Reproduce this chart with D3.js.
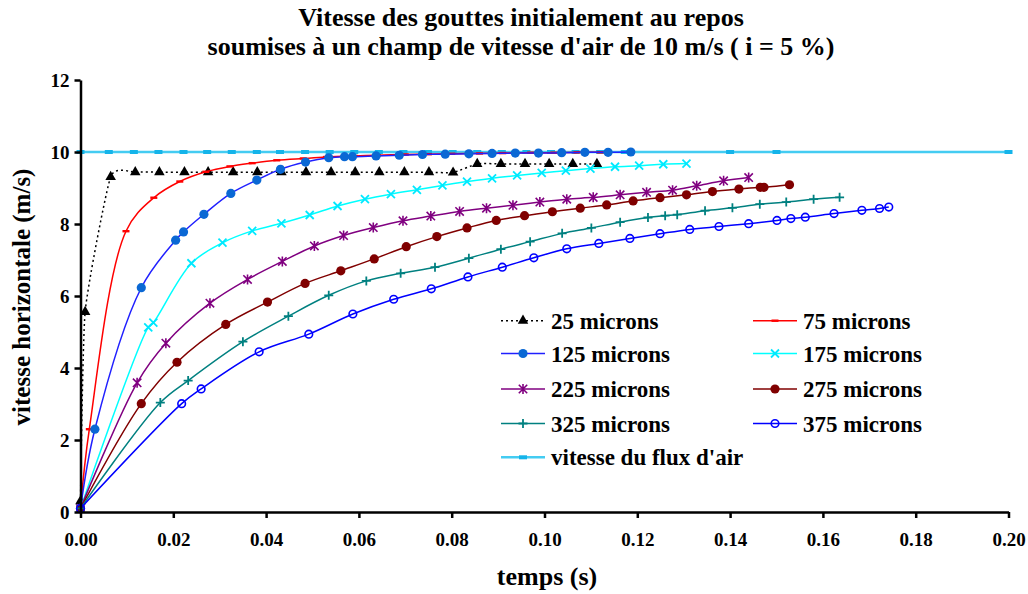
<!DOCTYPE html>
<html><head><meta charset="utf-8">
<script src="https://cdn.jsdelivr.net/npm/d3@7"></script>
<style>
body{margin:0;background:#fff;}
svg{display:block;}
text{font-family:"Liberation Serif","Times New Roman",serif;font-weight:bold;fill:#000;}
</style></head>
<body><svg id="c" width="1028" height="594"></svg>
<script>
// ---- data ----
const t25 = [0, 0.0010, 0.0065, 0.0118, 0.0170, 0.0224, 0.0275, 0.0329, 0.0381, 0.0433, 0.0486, 0.0540, 0.0592, 0.0644, 0.0698, 0.0751, 0.0803, 0.0855, 0.0906, 0.0958, 0.1010, 0.1061, 0.1113];
const v25 = [0.3, 5.56, 9.31, 9.44, 9.44, 9.44, 9.44, 9.44, 9.44, 9.44, 9.44, 9.44, 9.44, 9.44, 9.44, 9.44, 9.43, 9.67, 9.67, 9.67, 9.67, 9.67, 9.67];
const t75 = [0, 0.0019, 0.0098, 0.0158, 0.0214, 0.0270, 0.0322, 0.0370, 0.0423, 0.0480, 0.0530, 0.0590, 0.0640, 0.0700, 0.0750, 0.0800, 0.0860, 0.0910, 0.0970, 0.1020, 0.1070, 0.1120];
const v75 = [0.1, 2.3, 7.8, 8.73, 9.18, 9.45, 9.60, 9.69, 9.77, 9.82, 9.86, 9.89, 9.91, 9.93, 9.94, 9.95, 9.96, 9.97, 9.98, 9.98, 9.99, 9.99];
const t125 = [0, 0.0031, 0.0131, 0.0205, 0.0222, 0.0266, 0.0324, 0.0380, 0.0431, 0.0485, 0.0535, 0.0569, 0.0586, 0.0637, 0.0687, 0.0737, 0.0786, 0.0837, 0.0887, 0.0937, 0.0987, 0.1037, 0.1087, 0.1137, 0.1186];
const v125 = [0.1, 2.3, 6.23, 7.55, 7.78, 8.27, 8.85, 9.22, 9.52, 9.72, 9.84, 9.87, 9.87, 9.89, 9.91, 9.93, 9.94, 9.95, 9.96, 9.97, 9.97, 9.98, 9.99, 9.99, 10.0];
const t175 = [0, 0.0146, 0.0157, 0.0239, 0.0306, 0.0370, 0.0433, 0.0494, 0.0554, 0.0613, 0.0669, 0.0725, 0.0780, 0.0833, 0.0887, 0.0941, 0.0994, 0.1046, 0.1099, 0.1152, 0.1204, 0.1256, 0.1306];
const v175 = [0.1, 5.13, 5.26, 6.91, 7.48, 7.81, 8.02, 8.25, 8.50, 8.69, 8.83, 8.95, 9.07, 9.18, 9.27, 9.35, 9.42, 9.48, 9.54, 9.59, 9.62, 9.66, 9.68];
const t225 = [0, 0.0122, 0.0184, 0.0279, 0.0360, 0.0435, 0.0504, 0.0567, 0.0631, 0.0695, 0.0755, 0.0817, 0.0875, 0.0932, 0.0990, 0.1048, 0.1105, 0.1163, 0.1220, 0.1276, 0.1328, 0.1386, 0.1440];
const v225 = [0.1, 3.59, 4.69, 5.80, 6.46, 6.96, 7.39, 7.68, 7.90, 8.09, 8.22, 8.35, 8.44, 8.52, 8.61, 8.69, 8.74, 8.81, 8.88, 8.94, 9.06, 9.20, 9.29];
const t275 = [0, 0.0131, 0.0208, 0.0313, 0.0403, 0.0484, 0.0561, 0.0633, 0.0702, 0.0768, 0.0833, 0.0896, 0.0957, 0.1017, 0.1077, 0.1134, 0.1191, 0.1249, 0.1306, 0.1362, 0.1419, 0.1465, 0.1473, 0.1528];
const v275 = [0.1, 3.01, 4.16, 5.21, 5.83, 6.35, 6.70, 7.03, 7.37, 7.65, 7.89, 8.10, 8.23, 8.34, 8.44, 8.53, 8.64, 8.73, 8.81, 8.90, 8.97, 9.02, 9.02, 9.09];
const t325 = [0, 0.0172, 0.0232, 0.0350, 0.0448, 0.0535, 0.0616, 0.0690, 0.0764, 0.0837, 0.0906, 0.0969, 0.1038, 0.1101, 0.1163, 0.1223, 0.1260, 0.1286, 0.1346, 0.1405, 0.1464, 0.1521, 0.1580, 0.1636];
const v325 = [0.1, 3.04, 3.65, 4.73, 5.44, 6.02, 6.42, 6.63, 6.80, 7.05, 7.30, 7.51, 7.74, 7.89, 8.05, 8.18, 8.23, 8.26, 8.37, 8.45, 8.55, 8.61, 8.69, 8.74];
const t375 = [0, 0.0218, 0.0260, 0.0385, 0.0492, 0.0587, 0.0675, 0.0756, 0.0835, 0.0909, 0.0977, 0.1048, 0.1117, 0.1184, 0.1249, 0.1313, 0.1376, 0.1440, 0.1501, 0.1531, 0.1562, 0.1624, 0.1684, 0.1722, 0.1742];
const v375 = [0.1, 3.01, 3.42, 4.45, 4.94, 5.50, 5.91, 6.20, 6.53, 6.80, 7.06, 7.31, 7.46, 7.60, 7.73, 7.85, 7.93, 8.01, 8.10, 8.15, 8.19, 8.29, 8.38, 8.43, 8.47];
const tAir = [0, 0.0061, 0.0115, 0.0168, 0.0222, 0.0273, 0.0326, 0.0380, 0.0430, 0.0484, 0.0537, 0.0590, 0.0643, 0.0696, 0.0749, 0.0802, 0.0855, 0.0908, 0.0961, 0.1014, 0.1067, 0.1120, 0.1173, 0.1400, 0.1500, 0.2000];
const vAir = [10, 10, 10, 10, 10, 10, 10, 10, 10, 10, 10, 10, 10, 10, 10, 10, 10, 10, 10, 10, 10, 10, 10, 10, 10, 10];

const seriesNames = ["25 microns","75 microns","125 microns","175 microns","225 microns","275 microns","325 microns","375 microns","vitesse du flux d'air"];
const xTicks = [0,0.02,0.04,0.06,0.08,0.10,0.12,0.14,0.16,0.18,0.20];
const yTicks = [0,2,4,6,8,10,12];
const titleLines = ["Vitesse des gouttes initialement au repos","soumises à un champ de vitesse d'air de 10 m/s ( i = 5 %)"];
const xTitle = "temps (s)";
const yTitle = "vitesse horizontale (m/s)";

// ---- styles ----
const styles = [
  {t:t25, v:v25, line:"#000", marker:"tri", mcolor:"#000", dash:"2,3", curve:d3.curveCardinal.tension(0.5)},
  {t:t75, v:v75, line:"#ff0000", marker:"dash", mcolor:"#ff0000"},
  {t:t125, v:v125, line:"#2020ff", marker:"dot", mcolor:"#0a68d4"},
  {t:t175, v:v175, line:"#00ffff", marker:"x", mcolor:"#00e8ff"},
  {t:t225, v:v225, line:"#800080", marker:"star", mcolor:"#800080"},
  {t:t275, v:v275, line:"#800000", marker:"dot", mcolor:"#800000"},
  {t:t325, v:v325, line:"#008080", marker:"plus", mcolor:"#008080"},
  {t:t375, v:v375, line:"#0000ff", marker:"ring", mcolor:"#0000ff"},
  {t:tAir, v:vAir, line:"#44ccf2", marker:"bar", mcolor:"#14b4ea", width:2.5, curve:d3.curveLinear}
];

const svg = d3.select("#c");
const x = d3.scaleLinear().domain([0,0.2]).range([80.5,1008.5]);
const y = d3.scaleLinear().domain([0,12]).range([512,80]);

// titles
svg.append("text").attr("x",521).attr("y",26).attr("text-anchor","middle").style("font-size","26px").text(titleLines[0]);
svg.append("text").attr("x",521).attr("y",55).attr("text-anchor","middle").style("font-size","26px").text(titleLines[1]);

function drawMarker(g, type, cx, cy, col){
  if(type==="tri"){
    g.append("path").attr("d",d3.symbol(d3.symbolTriangle,48)()).attr("transform",`translate(${cx},${cy})`).attr("fill",col);
  } else if(type==="dash"){
    g.append("rect").attr("x",cx-3.5).attr("y",cy-1.2).attr("width",7).attr("height",2.4).attr("fill",col);
  } else if(type==="dot"){
    g.append("circle").attr("cx",cx).attr("cy",cy).attr("r",4.6).attr("fill",col);
  } else if(type==="ring"){
    g.append("circle").attr("cx",cx).attr("cy",cy).attr("r",3.8).attr("fill","none").attr("stroke",col).attr("stroke-width",1.6);
  } else if(type==="x"){
    const s=4;
    g.append("path").attr("d",`M${cx-s},${cy-s}L${cx+s},${cy+s}M${cx-s},${cy+s}L${cx+s},${cy-s}`).attr("stroke",col).attr("stroke-width",1.8);
  } else if(type==="plus"){
    const s=4.5;
    g.append("path").attr("d",`M${cx-s},${cy}L${cx+s},${cy}M${cx},${cy-s}L${cx},${cy+s}`).attr("stroke",col).attr("stroke-width",1.8);
  } else if(type==="star"){
    const s=4.2;
    g.append("path").attr("d",`M${cx-s},${cy-s}L${cx+s},${cy+s}M${cx-s},${cy+s}L${cx+s},${cy-s}M${cx},${cy-s-0.8}L${cx},${cy+s+0.8}`).attr("stroke",col).attr("stroke-width",1.6);
  } else if(type==="bar"){
    g.append("rect").attr("x",cx-4).attr("y",cy-2).attr("width",8).attr("height",4).attr("fill",col);
  }
}

const order = [8,0,1,2,3,4,5,6,7];
order.forEach(i=>{
  const s = styles[i];
  const pts = s.t.map((tt,k)=>[tt,s.v[k]]);
  const g = svg.append("g");
  const gen = d3.line().x(d=>x(d[0])).y(d=>y(d[1])).curve(s.curve || d3.curveCatmullRom.alpha(0.5));
  g.append("path").datum(pts).attr("d", gen(pts))
   .attr("fill","none").attr("stroke",s.line).attr("stroke-width",s.width||1.5)
   .attr("stroke-dasharray",s.dash||null);
  pts.forEach(p=>drawMarker(g,s.marker,x(p[0]),y(p[1]),s.mcolor));
});

// axes
const xAxis = svg.append("g").attr("transform","translate(0,512)")
  .call(d3.axisBottom(x).tickValues(xTicks).tickFormat(d3.format(".2f")).tickSize(6).tickSizeOuter(0));
const yAxis = svg.append("g").attr("transform","translate(80.5,0)")
  .call(d3.axisLeft(y).tickValues(yTicks).tickFormat(d3.format("d")).tickSize(6).tickSizeOuter(0));
[xAxis,yAxis].forEach(a=>{
  a.select(".domain").attr("stroke","#000").attr("stroke-width",2.5);
  a.selectAll(".tick line").attr("stroke","#000").attr("stroke-width",2.5);
  a.selectAll(".tick text").style("font-size","19px").style("font-family",'"Liberation Serif",serif').style("font-weight","bold").attr("fill","#000");
});
xAxis.selectAll(".tick text").attr("dy","0").attr("y",34);
yAxis.selectAll(".tick text").attr("x",-11).attr("dy","0.35em");

svg.append("text").attr("x",547).attr("y",585).attr("text-anchor","middle").style("font-size","26px").text(xTitle);
svg.append("text").attr("transform","translate(30,297) rotate(-90)").attr("text-anchor","middle").style("font-size","25px").text(yTitle);

// legend
const legPos = [[501,320.7],[753,320.7],[501,353.5],[753,353.5],[501,389],[753,389],[501,423.5],[753,423.5],[501,457.3]];
styles.forEach((s,i)=>{
  const [lx,ly] = legPos[i];
  const g = svg.append("g");
  g.append("line").attr("x1",lx).attr("x2",lx+44).attr("y1",ly).attr("y2",ly).attr("stroke",s.line).attr("stroke-width",s.width||1.5).attr("stroke-dasharray",s.dash||null);
  drawMarker(g,s.marker,lx+22,ly,s.mcolor);
  g.append("text").attr("x",lx+50).attr("y",ly).attr("dy","0.35em").style("font-size","23px").text(seriesNames[i]);
});
</script></body></html>
